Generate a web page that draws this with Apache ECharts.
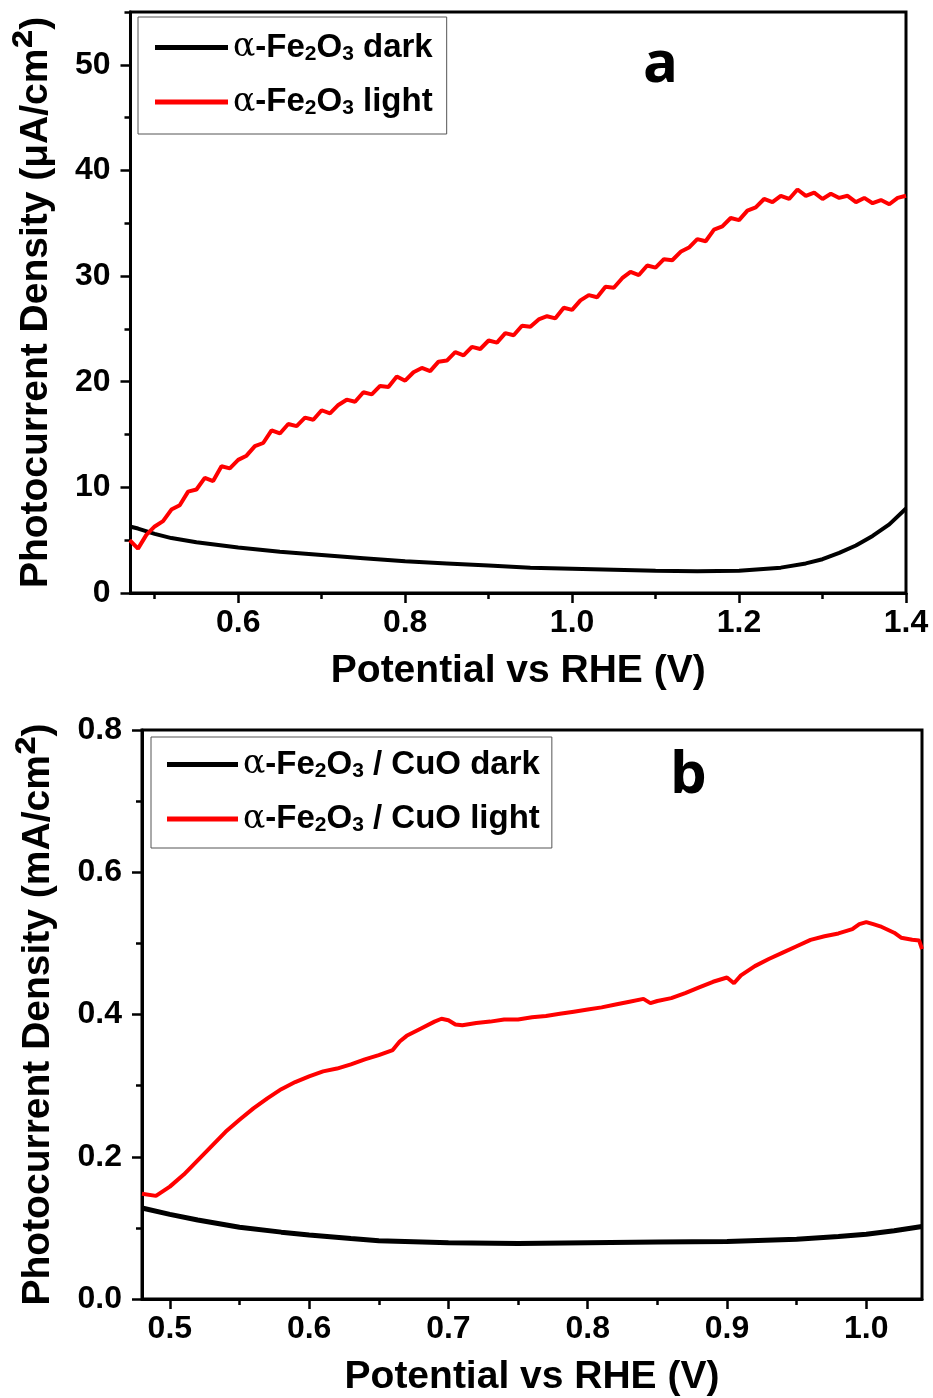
<!DOCTYPE html>
<html>
<head>
<meta charset="utf-8">
<script src="https://cdn.jsdelivr.net/npm/echarts@6/dist/echarts.min.js"></script>
<style>
html, body { margin: 0; padding: 0; background: #fff; }
#main { width: 933px; height: 1398px; }
</style>
</head>
<body>
<div id="main"></div>
<script>
var chart = echarts.init(document.getElementById('main'));

// ---- panel a : alpha-Fe2O3 (uA/cm2) ----
var lightA_x = [
  0.47, 0.48, 0.49, 0.50, 0.51, 0.52, 0.53, 0.54, 0.55, 0.56,
  0.57, 0.58, 0.59, 0.60, 0.61, 0.62, 0.63, 0.64, 0.65, 0.66,
  0.67, 0.68, 0.69, 0.70, 0.71, 0.72, 0.73, 0.74, 0.75, 0.76,
  0.77, 0.78, 0.79, 0.80, 0.81, 0.82, 0.83, 0.84, 0.85, 0.86,
  0.87, 0.88, 0.89, 0.90, 0.91, 0.92, 0.93, 0.94, 0.95, 0.96,
  0.97, 0.98, 0.99, 1.00, 1.01, 1.02, 1.03, 1.04, 1.05, 1.06,
  1.07, 1.08, 1.09, 1.10, 1.11, 1.12, 1.13, 1.14, 1.15, 1.16,
  1.17, 1.18, 1.19, 1.20, 1.21, 1.22, 1.23, 1.24, 1.25, 1.26,
  1.27, 1.28, 1.29, 1.30, 1.31, 1.32, 1.33, 1.34, 1.35, 1.36,
  1.37, 1.38, 1.39, 1.40
];
var lightA_y = [
  5.0, 4.2, 5.5, 6.3, 6.8, 7.9, 8.3, 9.6, 9.8, 10.9,
  10.6, 12.0, 11.8, 12.6, 13.0, 13.9, 14.2, 15.4, 15.1, 16.0,
  15.8, 16.6, 16.4, 17.3, 17.0, 17.8, 18.3, 18.1, 19.0, 18.8,
  19.6, 19.5, 20.5, 20.1, 20.9, 21.3, 21.0, 21.9, 22.0, 22.8,
  22.5, 23.3, 23.1, 23.9, 23.7, 24.6, 24.4, 25.3, 25.2, 25.9,
  26.2, 26.0, 27.0, 26.8, 27.7, 28.2, 28.0, 29.0, 28.9, 29.8,
  30.4, 30.1, 31.0, 30.8, 31.6, 31.5, 32.3, 32.7, 33.5, 33.3,
  34.4, 34.7, 35.5, 35.3, 36.2, 36.5, 37.3, 37.0, 37.6, 37.3,
  38.2, 37.6, 37.9, 37.3, 37.8, 37.4, 37.6, 37.0, 37.4, 36.9,
  37.2, 36.8, 37.4, 37.6
];
var darkA_x = [0.47, 0.48, 0.50, 0.52, 0.55, 0.60, 0.65, 0.70, 0.75, 0.80, 0.85, 0.90, 0.95,
  1.00, 1.05, 1.10, 1.15, 1.20, 1.25, 1.28, 1.30, 1.32, 1.34, 1.36, 1.38, 1.40];
var darkA_y = [6.3, 6.1, 5.6, 5.2, 4.8, 4.3, 3.9, 3.6, 3.3, 3.0, 2.8, 2.6, 2.4,
  2.3, 2.2, 2.1, 2.05, 2.1, 2.4, 2.8, 3.2, 3.8, 4.5, 5.4, 6.5, 8.0];

var xMajorA = [0.6, 0.8, 1.0, 1.2, 1.4];
var xMinorA = [0.5, 0.7, 0.9, 1.1, 1.3];
var yMajorA = [0, 10, 20, 30, 40, 50];
var yMinorA = [5, 15, 25, 35, 45, 55];

// ---- panel b : alpha-Fe2O3 / CuO (mA/cm2) ----
var lightB_x = [0.480, 0.490, 0.500, 0.510, 0.520, 0.530, 0.540, 0.550, 0.560, 0.570,
  0.580, 0.590, 0.600, 0.610, 0.620, 0.630, 0.640, 0.650, 0.660, 0.665,
  0.670, 0.680, 0.690, 0.695, 0.700, 0.705, 0.710, 0.720, 0.730, 0.740,
  0.750, 0.760, 0.770, 0.780, 0.790, 0.800, 0.810, 0.820, 0.830, 0.840,
  0.845, 0.850, 0.860, 0.870, 0.880, 0.890, 0.900, 0.905, 0.910, 0.920,
  0.930, 0.940, 0.950, 0.960, 0.970, 0.980, 0.990, 0.995, 1.000, 1.005,
  1.010, 1.020, 1.025, 1.033, 1.038, 1.040];
var lightB_y = [0.148, 0.145, 0.158, 0.175, 0.195, 0.215, 0.235, 0.252, 0.268, 0.282,
  0.295, 0.305, 0.313, 0.320, 0.324, 0.330, 0.337, 0.343, 0.350, 0.362,
  0.370, 0.380, 0.390, 0.394, 0.392, 0.386, 0.385, 0.388, 0.390, 0.393,
  0.393, 0.396, 0.398, 0.401, 0.404, 0.407, 0.410, 0.414, 0.418, 0.422,
  0.416, 0.419, 0.423, 0.430, 0.438, 0.446, 0.452, 0.444, 0.455, 0.468,
  0.478, 0.487, 0.496, 0.505, 0.510, 0.514, 0.520, 0.527, 0.530, 0.527,
  0.524, 0.515, 0.508, 0.505, 0.504, 0.492];
var darkB_x = [0.48, 0.50, 0.52, 0.55, 0.58, 0.60, 0.63, 0.65, 0.70, 0.75, 0.80, 0.85,
  0.90, 0.95, 0.98, 1.00, 1.02, 1.04];
var darkB_y = [0.128, 0.119, 0.111, 0.101, 0.094, 0.090, 0.085, 0.082, 0.079, 0.078, 0.079, 0.080,
  0.081, 0.084, 0.088, 0.091, 0.096, 0.102];

var xMajorB = [0.5, 0.6, 0.7, 0.8, 0.9, 1.0];
var xMinorB = [0.55, 0.65, 0.75, 0.85, 0.95];
var yMajorB = [0, 0.2, 0.4, 0.6, 0.8];
var yMinorB = [0.1, 0.3, 0.5, 0.7];

var SANS = "'Liberation Sans', Arial, sans-serif";

function pairs(xs, ys) {
    return xs.map(function (x, i) { return [x, ys[i]]; });
}

// legend name 'α-Fe2O3 ...' -> rich text with subscripts
function legendLabel(name) {
    var rest = name.replace('α-Fe2O3', '');
    return '{g|α}{t|-Fe}{s|2}{t|O}{s|3}{t|' + rest + '}';
}

var legendRich = {
    t: { fontSize: 33, fontWeight: 'bold', fontFamily: SANS, color: '#000', lineHeight: 34 },
    g: { fontSize: 33, fontFamily: "'DejaVu Serif', serif", color: '#000', lineHeight: 34 },
    s: { fontSize: 21, fontWeight: 'bold', fontFamily: SANS, color: '#000', lineHeight: 6, verticalAlign: 'bottom' }
};

// superscript 2 drawn as a large '²' glyph
function yName(unit) {
    return '{t|Photocurrent Density (' + unit + '/cm}{p|²}{t|)}';
}
var yNameRich = {
    t: { fontSize: 39, fontWeight: 'bold', fontFamily: SANS, color: '#000' },
    p: { fontSize: 56, fontWeight: 'bold', fontFamily: SANS, color: '#000' }
};

function majorX(grid, min, max, ticks) {
    return {
        type: 'value', gridIndex: grid, min: min, max: max, position: 'bottom',
        axisLine: { show: true, onZero: false, lineStyle: { color: '#000', width: 3 } },
        axisTick: { show: true, customValues: ticks, length: 10, lineStyle: { color: '#000', width: 2.5 } },
        axisLabel: { customValues: ticks, margin: 14, fontSize: 32, fontWeight: 'bold', fontFamily: SANS, color: '#000',
            formatter: function (v) { return v.toFixed(1); } },
        splitLine: { show: false },
        name: 'Potential vs RHE (V)', nameLocation: 'middle', nameGap: 59,
        nameTextStyle: { fontSize: 39, fontWeight: 'bold', fontFamily: SANS, color: '#000' }
    };
}
function minorX(grid, min, max, ticks) {
    return {
        type: 'value', gridIndex: grid, min: min, max: max, position: 'bottom', offset: 0,
        axisLine: { show: false },
        axisTick: { show: true, customValues: ticks, length: 6, lineStyle: { color: '#000', width: 2.5 } },
        axisLabel: { show: false },
        splitLine: { show: false }
    };
}
function majorY(grid, min, max, ticks, digits, name, gap) {
    return {
        type: 'value', gridIndex: grid, min: min, max: max, position: 'left',
        axisLine: { show: true, onZero: false, lineStyle: { color: '#000', width: 3 } },
        axisTick: { show: true, customValues: ticks, length: 10, lineStyle: { color: '#000', width: 2.5 } },
        axisLabel: { customValues: ticks, margin: 20, fontSize: 32, fontWeight: 'bold', fontFamily: SANS, color: '#000',
            formatter: function (v) { return v.toFixed(digits); } },
        splitLine: { show: false },
        name: name, nameLocation: 'middle', nameGap: gap,
        nameTextStyle: { rich: yNameRich }
    };
}
function minorY(grid, min, max, ticks) {
    return {
        type: 'value', gridIndex: grid, min: min, max: max, position: 'left', offset: 0,
        axisLine: { show: false },
        axisTick: { show: true, customValues: ticks, length: 6, lineStyle: { color: '#000', width: 2.5 } },
        axisLabel: { show: false },
        splitLine: { show: false }
    };
}

var option = {
    animation: false,
    backgroundColor: '#fff',
    grid: [
        { left: 130, top: 12, width: 776, height: 581, show: true, borderColor: '#000', borderWidth: 3 },
        { left: 142, top: 730, width: 780, height: 570, show: true, borderColor: '#000', borderWidth: 3 }
    ],
    xAxis: [
        majorX(0, 0.471, 1.4, xMajorA),
        minorX(0, 0.471, 1.4, xMinorA),
        majorX(1, 0.48, 1.04, xMajorB),
        minorX(1, 0.48, 1.04, xMinorB)
    ],
    yAxis: [
        majorY(0, 0, 55, yMajorA, 0, yName('μA'), 52),
        minorY(0, 0, 55, yMinorA),
        majorY(1, 0, 0.8, yMajorB, 1, yName('mA'), 65),
        minorY(1, 0, 0.8, yMinorB)
    ],
    legend: [
        {
            data: ['α-Fe2O3 dark', 'α-Fe2O3 light'],
            orient: 'vertical', left: 138, top: 17, icon: 'rect', itemWidth: 73, itemHeight: 5, itemGap: 21,
            padding: [14, 14, 15, 17], borderColor: '#555', borderWidth: 1,
            formatter: legendLabel, textStyle: { rich: legendRich }
        },
        {
            data: ['α-Fe2O3 / CuO dark', 'α-Fe2O3 / CuO light'],
            orient: 'vertical', left: 151, top: 737, icon: 'rect', itemWidth: 71, itemHeight: 5, itemGap: 21,
            padding: [11, 12, 12, 16], borderColor: '#555', borderWidth: 1,
            formatter: legendLabel, textStyle: { rich: legendRich }
        }
    ],
    graphic: [
        { type: 'text', left: 643, top: 36, style: { text: 'a', fontSize: 58, fontWeight: 'bold', fontFamily: "'Open Sans', sans-serif", fill: '#000' } },
        { type: 'text', left: 670, top: 747, style: { text: 'b', fontSize: 58, fontWeight: 'bold', fontFamily: "'Open Sans', sans-serif", fill: '#000' } }
    ],
    series: [
        { name: 'α-Fe2O3 dark', type: 'line', xAxisIndex: 0, yAxisIndex: 0, symbol: 'none',
          lineStyle: { color: '#000', width: 4 }, itemStyle: { color: '#000' }, data: pairs(darkA_x, darkA_y) },
        { name: 'α-Fe2O3 light', type: 'line', xAxisIndex: 0, yAxisIndex: 0, symbol: 'none',
          lineStyle: { color: '#ff0000', width: 4 }, itemStyle: { color: '#ff0000' }, data: pairs(lightA_x, lightA_y) },
        { name: 'α-Fe2O3 / CuO dark', type: 'line', xAxisIndex: 2, yAxisIndex: 2, symbol: 'none',
          lineStyle: { color: '#000', width: 5 }, itemStyle: { color: '#000' }, data: pairs(darkB_x, darkB_y) },
        { name: 'α-Fe2O3 / CuO light', type: 'line', xAxisIndex: 2, yAxisIndex: 2, symbol: 'none',
          lineStyle: { color: '#ff0000', width: 4 }, itemStyle: { color: '#ff0000' }, data: pairs(lightB_x, lightB_y) }
    ]
};

chart.setOption(option);
</script>
</body>
</html>
